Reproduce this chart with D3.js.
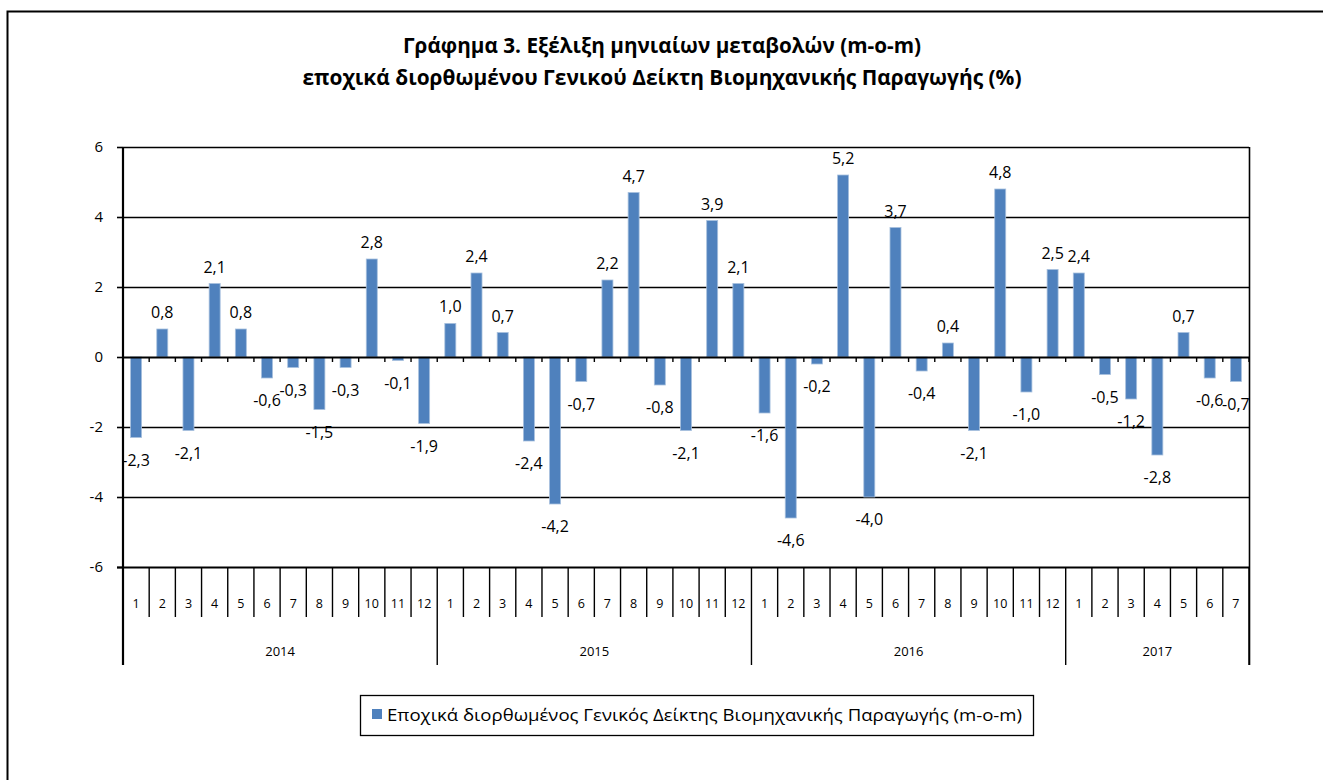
<!DOCTYPE html>
<html>
<head>
<meta charset="utf-8">
<script src="https://cdn.jsdelivr.net/npm/d3@7"></script>
<style>
  body { margin: 0; background: #fff; }
  text { font-family: "Open Sans", "Noto Sans", sans-serif; fill: #000; }
</style>
</head>
<body>
<div id="chart"></div>
<script>
// data
var years = ["2014", "2015", "2016", "2017"];
var monthsPerYear = [12, 12, 12, 7];
var values = [
    -2.3, 0.8, -2.1, 2.1, 0.8, -0.6, -0.3, -1.5, -0.3, 2.8, -0.1, -1.9,
    0.96, 2.4, 0.7, -2.4, -4.2, -0.7, 2.2, 4.7, -0.8, -2.1, 3.9, 2.1,
    -1.6, -4.6, -0.2, 5.2, -4.0, 3.7, -0.4, 0.4, -2.1, 4.8, -1.0, 2.5,
    2.4, -0.5, -1.2, -2.8, 0.7, -0.6, -0.7
];
var yTicks = [-6, -4, -2, 0, 2, 4, 6];
var titleLines = [
    "Γράφημα 3. Εξέλιξη μηνιαίων μεταβολών (m-o-m)",
    "εποχικά διορθωμένου Γενικού Δείκτη Βιομηχανικής Παραγωγής (%)"
];
var legendLabel = "Εποχικά διορθωμένος Γενικός Δείκτης  Βιομηχανικής Παραγωγής  (m-o-m)";

var width = 1323, height = 780;
var plotLeft = 123, plotRight = 1249, plotTop = 147, plotBottom = 567;

// one entry per bar
var rows = [];
years.forEach(function (yr, yi) {
    for (var m = 1; m <= monthsPerYear[yi]; m++) {
        rows.push({ key: yr + "-" + m, year: yr, month: m });
    }
});
rows.forEach(function (r, i) { r.value = values[i]; });

var svg = d3.select("#chart")
    .append("svg")
    .attr("width", width)
    .attr("height", height);

// outer chart frame
svg.append("rect")
    .attr("x", 7.5).attr("y", 11.5)
    .attr("width", 1340).attr("height", 800)
    .attr("fill", "none")
    .attr("stroke", "#000")
    .attr("stroke-width", 2);

// title
svg.selectAll("text.title")
    .data(titleLines)
    .enter()
    .append("text")
    .attr("class", "title")
    .attr("x", 662)
    .attr("y", function (d, i) { return 53 + i * 32; })
    .attr("text-anchor", "middle")
    .attr("font-size", "21.5px")
    .attr("font-weight", "bold")
    .attr("textLength", function (d, i) { return i == 0 ? 518 : 719; })
    .attr("lengthAdjust", "spacingAndGlyphs")
    .text(function (d) { return d; });

var x = d3.scaleBand()
    .domain(rows.map(function (d) { return d.key; }))
    .range([plotLeft, plotRight])
    .paddingInner(0.58)
    .paddingOuter(0.29);

var step = x.step();

var y = d3.scaleLinear()
    .domain([-6, 6])
    .range([plotBottom, plotTop]);

// gridlines
svg.append("g")
    .selectAll("line")
    .data(yTicks.filter(function (t) { return t != 0 && t != -6 && t != 6; }))
    .enter()
    .append("line")
    .attr("x1", plotLeft).attr("x2", plotRight)
    .attr("y1", function (d) { return y(d) + 0.5; })
    .attr("y2", function (d) { return y(d) + 0.5; })
    .attr("stroke", "#000")
    .attr("stroke-width", 1.3);

// right border of plot area
svg.append("line")
    .attr("x1", plotRight + 0.5).attr("x2", plotRight + 0.5)
    .attr("y1", plotTop).attr("y2", 665)
    .attr("stroke", "#000")
    .attr("stroke-width", 1.6);

// bars
svg.append("g")
    .selectAll("rect")
    .data(rows)
    .enter()
    .append("rect")
    .attr("x", function (d) { return x(d.key); })
    .attr("width", x.bandwidth())
    .attr("y", function (d) { return y(Math.max(0, d.value)); })
    .attr("height", function (d) { return Math.abs(y(d.value) - y(0)); })
    .attr("fill", "#4f81bd")
    .attr("stroke", "#a7c0de")
    .attr("stroke-width", 0.8);

// value labels
svg.append("g")
    .selectAll("text")
    .data(rows)
    .enter()
    .append("text")
    .attr("x", function (d) { return x(d.key) + x.bandwidth() / 2; })
    .attr("y", function (d) {
        return d.value >= 0 ? y(d.value) - 11 : y(d.value) + 28;
    })
    .attr("text-anchor", "middle")
    .attr("font-size", "16px")
    .text(function (d) { return d.value.toFixed(1).replace(".", ","); });

// zero line with small ticks
svg.append("line")
    .attr("x1", plotLeft).attr("x2", plotRight)
    .attr("y1", y(0) + 0.5).attr("y2", y(0) + 0.5)
    .attr("stroke", "#000")
    .attr("stroke-width", 2);

svg.append("g")
    .selectAll("line")
    .data(d3.range(rows.length + 1))
    .enter()
    .append("line")
    .attr("x1", function (i) { return plotLeft + i * step; })
    .attr("x2", function (i) { return plotLeft + i * step; })
    .attr("y1", y(0)).attr("y2", y(0) + 5)
    .attr("stroke", "#000")
    .attr("stroke-width", 1.4);

// y axis (plain hyphen for negatives, like the original)
var yAxis = d3.axisLeft(y)
    .tickValues(yTicks)
    .tickSize(6)
    .tickPadding(14)
    .tickFormat(function (d) { return String(d); });

var yg = svg.append("g")
    .attr("transform", "translate(" + plotLeft + ",0)")
    .call(yAxis);
yg.select(".domain").attr("stroke-width", 2.2).attr("d", "M0," + plotTop + "V665");
yg.selectAll(".tick line").attr("stroke-width", 1.6);
yg.selectAll(".tick text")
    .attr("font-family", "'Open Sans', sans-serif")
    .attr("font-size", "15px")
    .attr("fill", "#000");

// top and bottom lines of plot area
svg.append("line")
    .attr("x1", plotLeft).attr("x2", plotRight)
    .attr("y1", plotTop + 0.5).attr("y2", plotTop + 0.5)
    .attr("stroke", "#000").attr("stroke-width", 1.6);
svg.append("line")
    .attr("x1", plotLeft - 6).attr("x2", plotRight)
    .attr("y1", plotBottom + 0.5).attr("y2", plotBottom + 0.5)
    .attr("stroke", "#000").attr("stroke-width", 2.2);

// category axis: month dividers and year dividers
var yearStarts = [0];
monthsPerYear.forEach(function (n, i) { yearStarts.push(yearStarts[i] + n); });

svg.append("g")
    .selectAll("line")
    .data(d3.range(rows.length + 1))
    .enter()
    .append("line")
    .attr("x1", function (i) { return plotLeft + i * step; })
    .attr("x2", function (i) { return plotLeft + i * step; })
    .attr("y1", plotBottom)
    .attr("y2", function (i) { return yearStarts.indexOf(i) >= 0 ? 665 : 617; })
    .attr("stroke", "#000")
    .attr("stroke-width", 1.4);

svg.append("g")
    .selectAll("text")
    .data(rows)
    .enter()
    .append("text")
    .attr("x", function (d) { return x(d.key) + x.bandwidth() / 2; })
    .attr("y", 608)
    .attr("text-anchor", "middle")
    .attr("font-size", "12.5px")
    .text(function (d) { return d.month; });

svg.append("g")
    .selectAll("text")
    .data(years)
    .enter()
    .append("text")
    .attr("x", function (d, i) { return plotLeft + (yearStarts[i] + yearStarts[i + 1]) / 2 * step; })
    .attr("y", 656)
    .attr("text-anchor", "middle")
    .attr("font-size", "13px")
    .text(function (d) { return d; });

// legend
var legend = svg.append("g");
legend.append("rect")
    .attr("x", 360.5).attr("y", 695.5)
    .attr("width", 673).attr("height", 40)
    .attr("fill", "#fff")
    .attr("stroke", "#000")
    .attr("stroke-width", 1.3);
legend.append("rect")
    .attr("x", 372).attr("y", 709)
    .attr("width", 10).attr("height", 10)
    .attr("fill", "#4f81bd");
legend.append("text")
    .attr("x", 387).attr("y", 721)
    .attr("font-size", "15.5px")
    .attr("textLength", 635)
    .attr("lengthAdjust", "spacingAndGlyphs")
    .text(legendLabel);
</script>
</body>
</html>
